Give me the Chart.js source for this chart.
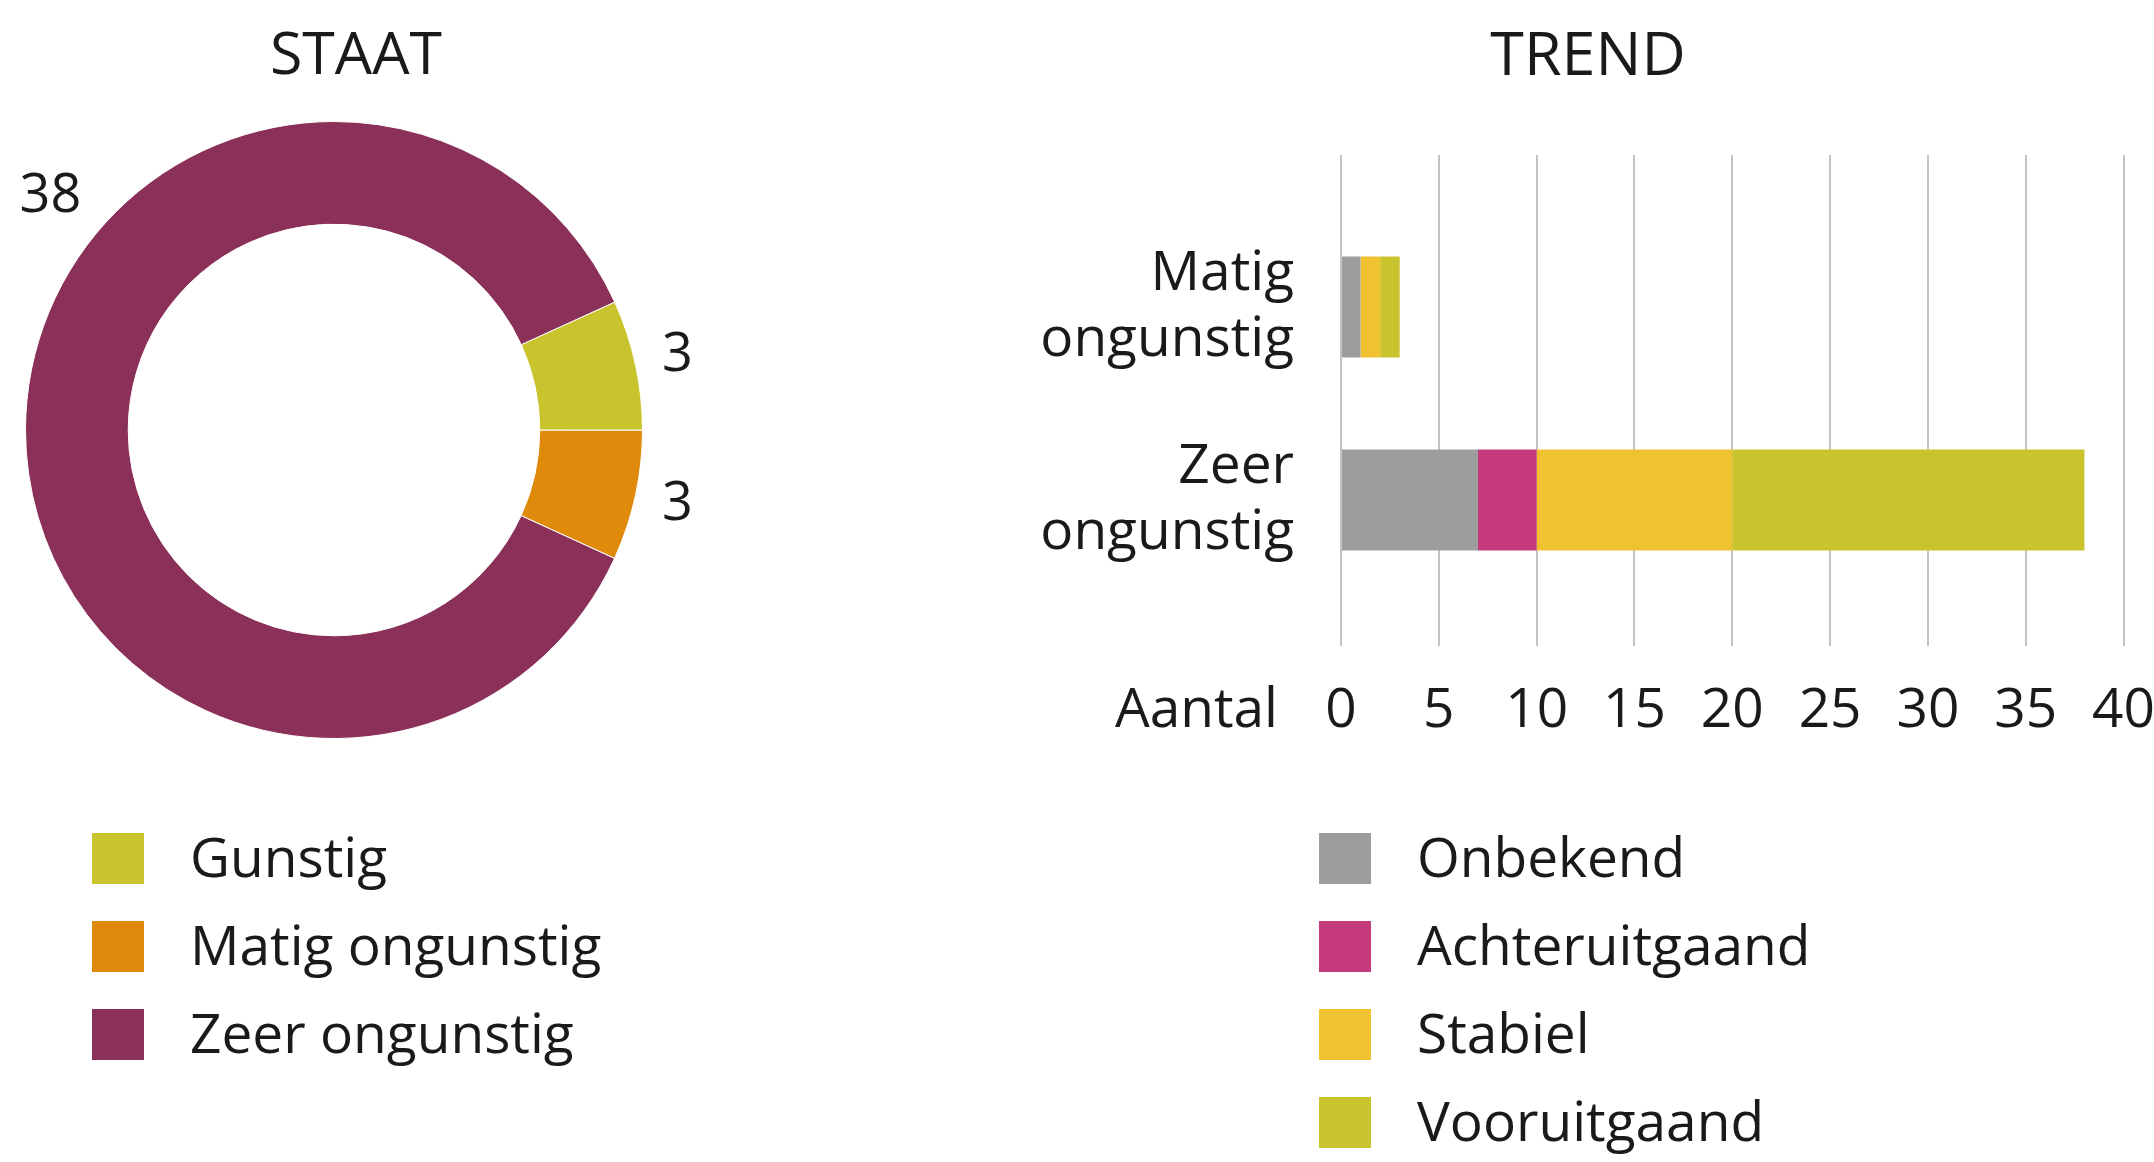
<!DOCTYPE html>
<html lang="nl">
  <head>
    <meta charset="UTF-8" />
    <meta name="viewport" content="width=device-width, initial-scale=1.0" />
    <title>Staat en trend</title>
    <style>
      body {
        margin: 0;
        width: 2154px;
        height: 1162px;
        position: relative;
        overflow: hidden;
        background: #fff;
        font-family: "Open Sans", sans-serif;
        color: #1a1a1a;
      }
      .box {
        position: absolute;
      }
      .title {
        position: absolute;
        width: 400px;
        text-align: center;
        line-height: 1;
        white-space: nowrap;
      }
      .legend {
        position: absolute;
        font-size: 55px;
      }
      .legend-item {
        position: relative;
        height: 88px;
        line-height: 88px;
        white-space: nowrap;
      }
      .legend-item span.swatch {
        position: absolute;
        left: 0;
        top: 18px;
        width: 52px;
        height: 51px;
      }
      .legend-item span.label {
        position: absolute;
        left: 98px;
        top: -3px;
      }
    </style>
  </head>
  <body>
    <div class="title" style="left: 156px; top: 22px; font-size: 59px">STAAT</div>
    <div class="title" style="left: 1388px; top: 21px; font-size: 61px">TREND</div>
    <div class="box" style="left: 0; top: 0; width: 720px; height: 760px">
      <canvas id="staatChart"></canvas>
    </div>
    <div class="box" style="left: 1020px; top: 0; width: 1167px; height: 776px">
      <canvas id="trendChart"></canvas>
    </div>
    <div class="legend" id="staatLegend" style="left: 92px; top: 815px"></div>
    <div class="legend" id="trendLegend" style="left: 1319px; top: 815px"></div>

    <script src="https://cdn.jsdelivr.net/npm/chart.js@4/dist/chart.umd.min.js"></script>
    <script>
      // staat (donut)
      const staatLabels = ["Gunstig", "Matig ongunstig", "Zeer ongunstig"];
      const staatValues = [3, 3, 38];
      const staatColors = ["#c9c42e", "#e08a0c", "#8b3159"];

      // trend (gestapelde balken)
      const trendCategories = ["Matig ongunstig", "Zeer ongunstig"];
      const trendSeries = ["Onbekend", "Achteruitgaand", "Stabiel", "Vooruitgaand"];
      const onbekend = [1, 7];
      const achteruitgaand = [0, 3];
      const stabiel = [1, 10];
      const vooruitgaand = [1, 18];
      const trendColors = ["#9d9d9d", "#c53a7b", "#f0c232", "#c9c42e"];
      const xTicks = [0, 5, 10, 15, 20, 25, 30, 35, 40];

      const fontFamily = "'Open Sans', sans-serif";
      const textColor = "#1a1a1a";

      // waarden naast de ring
      const arcLabels = {
        id: "arcLabels",
        afterDatasetsDraw(chart, args, opts) {
          const ctx = chart.ctx;
          const meta = chart.getDatasetMeta(0);
          ctx.save();
          ctx.font = "54px " + fontFamily;
          ctx.fillStyle = textColor;
          ctx.textAlign = "center";
          ctx.textBaseline = "middle";
          meta.data.forEach((arc, i) => {
            const p = arc.getProps(["x", "y", "startAngle", "endAngle", "outerRadius"], true);
            const o = (opts.overrides || {})[i] || {};
            const a = o.angle !== undefined ? (o.angle * Math.PI) / 180 : (p.startAngle + p.endAngle) / 2;
            const r = p.outerRadius + (o.offset !== undefined ? o.offset : opts.offset);
            ctx.fillText(String(chart.data.datasets[0].data[i]), p.x + Math.cos(a) * r, p.y + Math.sin(a) * r);
          });
          ctx.restore();
        },
      };

      // "Aantal" links van de x-as labels
      const axisCaption = {
        id: "axisCaption",
        afterDraw(chart, args, opts) {
          const ctx = chart.ctx;
          const xs = chart.scales.x;
          ctx.save();
          ctx.font = "55px " + fontFamily;
          ctx.fillStyle = textColor;
          ctx.textAlign = "right";
          ctx.textBaseline = "middle";
          ctx.fillText(opts.text, xs.getPixelForValue(0) - opts.gap, xs.top + opts.dy);
          ctx.restore();
        },
      };

      new Chart(document.getElementById("staatChart"), {
        type: "doughnut",
        data: {
          labels: staatLabels,
          datasets: [
            {
              data: staatValues,
              backgroundColor: staatColors,
              borderColor: "#ffffff",
              borderWidth: 1,
            },
          ],
        },
        options: {
          responsive: true,
          maintainAspectRatio: false,
          animation: false,
          rotation: 65.5,
          cutout: "66.7%",
          layout: { padding: { left: 25, right: 77, top: 121, bottom: 21 } },
          plugins: {
            legend: { display: false },
            tooltip: { enabled: false },
            arcLabels: {
              offset: 43,
              overrides: { 2: { angle: 219.5, offset: 59 } },
            },
          },
        },
        plugins: [arcLabels],
      });

      const seriesData = [onbekend, achteruitgaand, stabiel, vooruitgaand];

      new Chart(document.getElementById("trendChart"), {
        type: "bar",
        data: {
          datasets: trendSeries.map((name, s) => ({
            label: name,
            data: seriesData[s].map((v, i) => ({ x: v, y: i })),
            backgroundColor: trendColors[s],
            borderWidth: 0,
            categoryPercentage: 1,
            barPercentage: 0.523,
          })),
        },
        options: {
          indexAxis: "y",
          responsive: true,
          maintainAspectRatio: false,
          animation: false,
          layout: { padding: { left: 0, right: 0, top: 155, bottom: 0 } },
          scales: {
            x: {
              type: "linear",
              stacked: true,
              min: 0,
              max: 40,
              afterBuildTicks: (s) => {
                s.ticks = xTicks.map((v) => ({ value: v }));
              },
              grid: { color: "#c4c4c4", lineWidth: 2, drawTicks: false },
              border: { display: false },
              ticks: {
                padding: 32,
                color: textColor,
                maxRotation: 0,
                font: { family: fontFamily, size: 55, lineHeight: 1.2 },
              },
            },
            y: {
              type: "linear",
              offset: false,
              stacked: true,
              reverse: true,
              min: -0.788,
              max: 1.756,
              afterBuildTicks: (s) => {
                s.ticks = trendCategories.map((c, i) => ({ value: i }));
              },
              afterFit: (s) => {
                s.width = 321;
              },
              grid: { display: false, drawTicks: false },
              border: { display: false },
              ticks: {
                padding: 47,
                color: textColor,
                autoSkip: false,
                font: { family: fontFamily, size: 55, lineHeight: 1.2 },
                callback: (v) => (trendCategories[v] ? trendCategories[v].split(" ") : ""),
              },
            },
          },
          plugins: {
            legend: { display: false },
            tooltip: { enabled: false },
            axisCaption: { text: "Aantal", gap: 63, dy: 65 },
          },
        },
        plugins: [axisCaption],
      });

      // legendes onder de grafieken
      function buildLegend(id, labels, colors) {
        const el = document.getElementById(id);
        labels.forEach((name, i) => {
          const item = document.createElement("div");
          item.className = "legend-item";
          item.innerHTML =
            '<span class="swatch" style="background:' + colors[i] + '"></span><span class="label">' + name + "</span>";
          el.appendChild(item);
        });
      }
      buildLegend("staatLegend", staatLabels, staatColors);
      buildLegend("trendLegend", trendSeries, trendColors);
    </script>
  </body>
</html>
